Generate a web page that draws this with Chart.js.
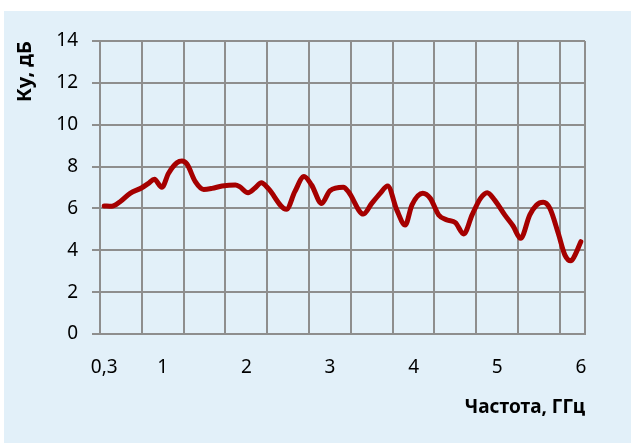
<!DOCTYPE html>
<html>
<head>
<meta charset="utf-8">
<script src="https://cdn.jsdelivr.net/npm/chart.js@4/dist/chart.umd.min.js"></script>
<style>
  html, body { margin: 0; padding: 0; background: #fff; }
  #wrap { position: absolute; left: 4px; top: 11px; width: 627px; height: 432px; background: #E2F0F9; }
</style>
</head>
<body>
<div id="wrap"><canvas id="myChart"></canvas></div>
<script>
// Частота, ГГц
var freq = [0.3, 0.39, 0.49, 0.61, 0.75, 0.83, 0.9, 0.99, 1.07, 1.17, 1.23, 1.29, 1.39, 1.49, 1.59, 1.71, 1.87, 1.92, 2.02, 2.1, 2.18,
  2.26, 2.48, 2.58, 2.69, 2.78, 2.9, 3.0, 3.16, 3.22, 3.4, 3.5, 3.6, 3.69, 3.8, 3.9, 3.98, 4.11,
  4.2, 4.3, 4.4, 4.5, 4.6, 4.7, 4.8, 4.88, 4.97, 5.09, 5.19, 5.28, 5.39, 5.47, 5.55, 5.63, 5.73, 5.81, 5.88, 5.92, 6.0];
// Ку, дБ
var gain = [6.12, 6.1, 6.32, 6.72, 6.99, 7.2, 7.39, 7.01, 7.68, 8.18, 8.27, 8.12, 7.28, 6.91, 6.96, 7.07, 7.12, 7.04, 6.75, 6.96, 7.23,
  6.96, 5.96, 6.8, 7.52, 7.12, 6.24, 6.85, 7.01, 6.8, 5.73, 6.24, 6.72, 7.07, 5.92, 5.21, 6.16, 6.72,
  6.48, 5.69, 5.45, 5.32, 4.78, 5.69, 6.48, 6.75, 6.4, 5.69, 5.16, 4.57, 5.69, 6.16, 6.29, 6.0, 4.81, 3.77, 3.5, 3.69, 4.41];

var xTickValues = [0.3, 1, 2, 3, 4, 5, 6];
var xTickLabels = ['0,3', '1', '2', '3', '4', '5', '6'];
var xGridValues = [0.25, 0.75, 1.25, 1.75, 2.25, 2.75, 3.25, 3.75, 4.25, 4.75, 5.25, 5.75, 6.05];
var yTicks = [0, 2, 4, 6, 8, 10, 12, 14];

var points = freq.map(function (f, i) { return { x: f, y: gain[i] }; });
var gridColor = '#8e8e8e';
var fontFamily = '"Noto Sans", "Open Sans", sans-serif';

var ctx = document.getElementById('myChart').getContext('2d');
var myChart = new Chart(ctx, {
  type: 'line',
  data: {
    datasets: [{
      label: 'Ку',
      data: points,
      borderColor: '#A50000',
      borderWidth: 5,
      pointRadius: 0,
      cubicInterpolationMode: 'monotone',
      borderCapStyle: 'round',
      borderJoinStyle: 'round',
      fill: false
    }]
  },
  options: {
    responsive: true,
    maintainAspectRatio: false,
    animation: false,
    layout: { padding: { left: 0, top: 30, right: 46, bottom: 0 } },
    plugins: {
      legend: { display: false },
      tooltip: { enabled: false }
    },
    scales: {
      x: {
        type: 'linear',
        min: 0.25,
        max: 6.05,
        afterBuildTicks: function (scale) {
          var all = xGridValues.concat(xTickValues);
          all.sort(function (a, b) { return a - b; });
          scale.ticks = all.map(function (v) { return { value: v }; });
        },
        afterFit: function (scale) { scale.height = 109; },
        grid: {
          drawTicks: false,
          lineWidth: 2,
          color: function (c) {
            return xGridValues.indexOf(c.tick && c.tick.value) >= 0 ? gridColor : 'rgba(0,0,0,0)';
          }
        },
        border: { display: true, color: gridColor, width: 2 },
        ticks: {
          autoSkip: false,
          maxRotation: 0,
          padding: 22,
          color: '#000',
          font: { family: fontFamily, size: 19 },
          callback: function (v) {
            var i = xTickValues.indexOf(v);
            return i >= 0 ? xTickLabels[i] : '';
          }
        },
        title: {
          display: true,
          text: 'Частота, ГГц',
          align: 'end',
          color: '#000',
          font: { family: fontFamily, size: 19, weight: 'bold' },
          padding: { top: 0, bottom: 24 }
        }
      },
      y: {
        min: 0,
        max: 14,
        afterBuildTicks: function (scale) {
          scale.ticks = yTicks.map(function (v) { return { value: v }; });
        },
        afterFit: function (scale) { scale.width = 96; },
        grid: { color: gridColor, lineWidth: 2, tickLength: 8 },
        border: { display: true, color: gridColor, width: 2 },
        ticks: {
          padding: 14,
          color: '#000',
          font: { family: fontFamily, size: 19 }
        },
        title: {
          display: true,
          text: 'Ку, дБ',
          align: 'end',
          color: '#000',
          font: { family: fontFamily, size: 20, weight: 'bold' },
          padding: { top: 9, bottom: 0 }
        }
      }
    }
  }
});
</script>
</body>
</html>
